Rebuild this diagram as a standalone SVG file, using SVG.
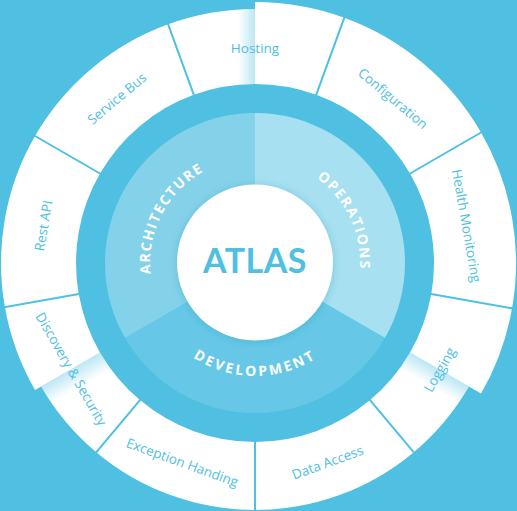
<svg xmlns="http://www.w3.org/2000/svg" width="517" height="511" viewBox="0 0 517 511">
<style>
.seg{fill:#ffffff}
.lbl{font-family:"Open Sans","Liberation Sans",sans-serif;font-size:13.5px;fill:#4FC0E2;text-anchor:middle}
.div{stroke:#4FC0E2;stroke-width:2}
.slbl{font-family:"Open Sans","Liberation Sans",sans-serif;font-size:14px;font-weight:700;fill:#ffffff;letter-spacing:1.6px}
</style>
<defs>
<path id="seg261" d="M165.73,17.74 A261,261 0 0 1 344.27,17.74 L316.22,94.80 A179,179 0 0 0 193.78,94.80 Z"/>
<path id="seg254" d="M168.13,24.32 A254,254 0 0 1 341.87,24.32 L316.22,94.80 A179,179 0 0 0 193.78,94.80 Z"/>
<path id="seg247" d="M170.52,30.90 A247,247 0 0 1 339.48,30.90 L316.22,94.80 A179,179 0 0 0 193.78,94.80 Z"/>
<path id="L254" d="M168.13,24.32 A254,254 0 0 1 255,9 L255,84 A179,179 0 0 0 193.78,94.80 Z"/>
<path id="R261" d="M255,2 A261,261 0 0 1 344.27,17.74 L316.22,94.80 A179,179 0 0 0 255,84 Z"/>
<path id="L261" d="M165.73,17.74 A261,261 0 0 1 255,2 L255,84 A179,179 0 0 0 193.78,94.80 Z"/>
<path id="R247" d="M255,16 A247,247 0 0 1 339.48,30.90 L316.22,94.80 A179,179 0 0 0 255,84 Z"/>
<path id="L247" d="M170.52,30.90 A247,247 0 0 1 255,16 L255,84 A179,179 0 0 0 193.78,94.80 Z"/>
<path id="R254" d="M255,9 A254,254 0 0 1 341.87,24.32 L316.22,94.80 A179,179 0 0 0 255,84 Z"/>
<clipPath id="cL254"><use href="#L254"/></clipPath>
<clipPath id="cR247"><use href="#R247"/></clipPath>
<clipPath id="cL247"><use href="#L247"/></clipPath>
<linearGradient id="shL" x1="1" y1="0" x2="0" y2="0">
<stop offset="0" stop-color="#4FC0E2" stop-opacity="0.38"/>
<stop offset="1" stop-color="#4FC0E2" stop-opacity="0"/>
</linearGradient>
<linearGradient id="shR" x1="0" y1="0" x2="1" y2="0">
<stop offset="0" stop-color="#4FC0E2" stop-opacity="0.38"/>
<stop offset="1" stop-color="#4FC0E2" stop-opacity="0"/>
</linearGradient>
<filter id="soft" x="-20%" y="-20%" width="140%" height="140%">
<feGaussianBlur stdDeviation="3"/>
</filter>
<path id="arcA" d="M164.07,315.5 A105,105 0 0 1 255,158"/>
<path id="arcO" d="M255,158 A105,105 0 0 1 345.93,315.5"/>
<path id="arcD" d="M157.14,319.5 A113,113 0 0 0 352.86,319.5"/>
</defs>

<rect x="0" y="0" width="517" height="511" fill="#4FC0E2"/>

<g id="hosting">
<use href="#L254" class="seg"/>
<use href="#R261" class="seg"/>
<rect x="238" y="0" width="17" height="100" fill="url(#shL)" clip-path="url(#cL254)"/>
<text class="lbl" x="255" y="53">Hosting</text>
</g>
<g id="configuration" transform="rotate(40 255 263)">
<use href="#seg261" class="seg"/>
<text class="lbl" x="255" y="53">Configuration</text>
</g>
<g id="health-monitoring" transform="rotate(80 255 263)">
<use href="#seg261" class="seg"/>
<text class="lbl" x="255" y="53">Health Monitoring</text>
</g>
<g id="logging">
<g transform="rotate(120 255 263)">
<use href="#L261" class="seg"/>
<use href="#R247" class="seg"/>
<rect x="255" y="0" width="19" height="100" fill="url(#shR)" clip-path="url(#cR247)"/>
</g>
<text class="lbl" x="255" y="481" transform="rotate(-60 255 263)">Logging</text>
</g>
<g id="data-access">
<use href="#seg247" class="seg" transform="rotate(160 255 263)"/>
<text class="lbl" x="255" y="480" transform="rotate(-20 255 263)">Data Access</text>
</g>
<g id="exception-handing">
<use href="#seg247" class="seg" transform="rotate(200 255 263)"/>
<text class="lbl" x="255" y="480" transform="rotate(20 255 263)">Exception Handing</text>
</g>
<g id="discovery-security">
<g transform="rotate(240 255 263)">
<use href="#L247" class="seg"/>
<use href="#R254" class="seg"/>
<rect x="235" y="0" width="20" height="100" fill="url(#shL)" clip-path="url(#cL247)"/>
</g>
<text class="lbl" x="255" y="480" transform="rotate(60 255 263)">Discovery &amp; Security</text>
</g>
<g id="rest-api" transform="rotate(280 255 263)">
<use href="#seg254" class="seg"/>
<text class="lbl" x="255" y="53">Rest API</text>
</g>
<g id="service-bus" transform="rotate(320 255 263)">
<use href="#seg254" class="seg"/>
<text class="lbl" x="255" y="53">Service Bus</text>
</g>

<g id="dividers">
<line class="div" x1="255" y1="87" x2="255" y2="-4" transform="rotate(20 255 263)"/>
<line class="div" x1="255" y1="87" x2="255" y2="-4" transform="rotate(60 255 263)"/>
<line class="div" x1="255" y1="87" x2="255" y2="-4" transform="rotate(100 255 263)"/>
<line class="div" x1="255" y1="87" x2="255" y2="-4" transform="rotate(140 255 263)"/>
<line class="div" x1="255" y1="87" x2="255" y2="-4" transform="rotate(180 255 263)"/>
<line class="div" x1="255" y1="87" x2="255" y2="-4" transform="rotate(220 255 263)"/>
<line class="div" x1="255" y1="87" x2="255" y2="-4" transform="rotate(260 255 263)"/>
<line class="div" x1="255" y1="87" x2="255" y2="-4" transform="rotate(300 255 263)"/>
<line class="div" x1="255" y1="87" x2="255" y2="-4" transform="rotate(340 255 263)"/>
</g>

<g id="architecture">
<path d="M255,263 L125.1,338 A150,150 0 0 1 255,113 Z" fill="#84D2EA"/>
<text class="slbl"><textPath href="#arcA" startOffset="48%" text-anchor="middle">ARCHITECTURE</textPath></text>
</g>
<g id="operations">
<path d="M255,263 L255,113 A150,150 0 0 1 384.9,338 Z" fill="#A6E0F1"/>
<text class="slbl"><textPath href="#arcO" startOffset="54%" text-anchor="middle">OPERATIONS</textPath></text>
</g>
<g id="development">
<path d="M255,263 L384.9,338 A150,150 0 0 1 125.1,338 Z" fill="#66C8E6"/>
<text class="slbl" style="letter-spacing:2.5px"><textPath href="#arcD" startOffset="50%" text-anchor="middle">DEVELOPMENT</textPath></text>
</g>

<g id="atlas">
<circle cx="255" cy="263.5" r="80" fill="#2A8FB5" opacity="0.22" filter="url(#soft)"/>
<circle cx="255" cy="262.5" r="78" fill="#ffffff"/>
<text x="255" y="272.5" text-anchor="middle" font-family="Lato, 'Open Sans', sans-serif" font-weight="700" font-size="34" letter-spacing="0.5" fill="#4FC0E2">ATLAS</text>
</g>
</svg>
